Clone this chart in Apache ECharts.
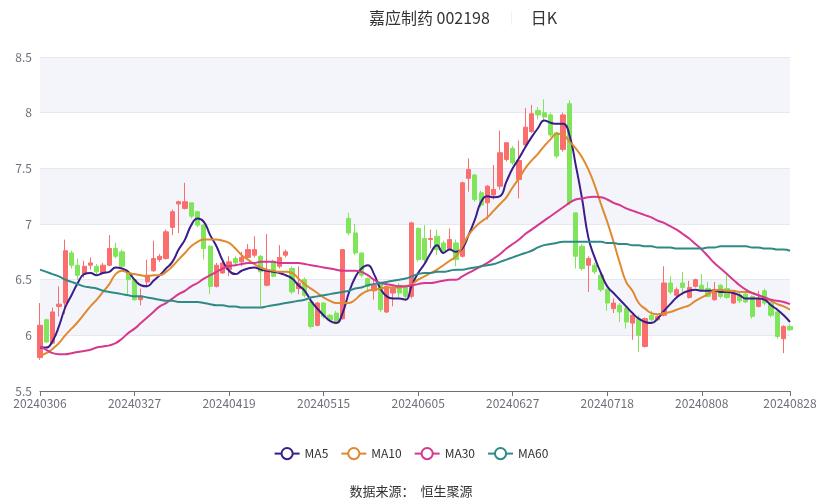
<!DOCTYPE html>
<html>
<head>
<meta charset="utf-8">
<script src="https://cdn.jsdelivr.net/npm/echarts@6/dist/echarts.min.js"></script>
<style>html,body{margin:0;padding:0;background:#fff}#c{width:822px;height:500px}</style>
</head>
<body>
<div id="c"></div>
<script>
const dates = ['20240306','20240307','20240308','20240311','20240312','20240313','20240314','20240315','20240318','20240319','20240320','20240321','20240322','20240325','20240326','20240327','20240328','20240329',
'20240401','20240402','20240403','20240408','20240409','20240410','20240411','20240412','20240415','20240416','20240417','20240418','20240419','20240422','20240423','20240424','20240425','20240426','20240429','20240430',
'20240506','20240507','20240508','20240509','20240510','20240513','20240514','20240515','20240516','20240517','20240520','20240521','20240522','20240523','20240524','20240527','20240528','20240529','20240530','20240531',
'20240603','20240604','20240605','20240606','20240607','20240611','20240612','20240613','20240614','20240617','20240618','20240619','20240620','20240621','20240624','20240625','20240626','20240627','20240628',
'20240701','20240702','20240703','20240704','20240705','20240708','20240709','20240710','20240711','20240712','20240715','20240716','20240717','20240718','20240719','20240722','20240723','20240724','20240725','20240726','20240729','20240730','20240731',
'20240801','20240802','20240805','20240806','20240807','20240808','20240809','20240812','20240813','20240814','20240815','20240816','20240819','20240820','20240821','20240822','20240823','20240826','20240827','20240828'];

const openP = [5.80,6.14,5.93,6.26,6.29,6.74,6.63,6.55,6.63,6.62,6.56,6.63,6.78,6.75,6.56,6.50,6.32,6.48,6.58,6.68,
6.69,6.97,7.18,7.14,7.19,7.11,6.99,6.80,6.44,6.56,6.59,6.69,6.66,6.70,6.72,6.71,6.45,6.66,6.62,6.72,
6.60,6.42,6.50,6.30,6.09,6.29,6.18,6.20,6.15,7.05,6.92,6.74,6.51,6.40,6.47,6.21,6.38,6.45,6.43,6.35,
6.96,6.87,6.86,6.89,6.83,6.78,6.83,6.71,7.41,7.44,7.28,7.19,7.26,7.34,7.58,7.68,7.40,7.71,7.83,8.02,
8.00,7.98,7.82,7.67,8.08,7.10,6.80,6.63,6.63,6.54,6.41,6.24,6.27,6.24,6.11,6.15,5.90,6.18,6.14,6.18,
6.47,6.36,6.47,6.34,6.44,6.45,6.42,6.32,6.45,6.42,6.29,6.36,6.37,6.35,6.26,6.40,6.29,6.21,5.97,6.08];
const closeP = [6.09,5.94,6.21,6.28,6.76,6.63,6.54,6.62,6.65,6.57,6.63,6.78,6.71,6.62,6.50,6.32,6.35,6.54,6.69,6.71,
6.93,7.11,7.20,7.20,7.07,6.99,6.78,6.44,6.63,6.65,6.66,6.65,6.70,6.77,6.77,6.57,6.59,6.53,6.70,6.75,
6.39,6.47,6.36,6.08,6.29,6.17,6.14,6.12,6.77,6.92,6.74,6.54,6.44,6.45,6.23,6.44,6.42,6.38,6.35,7.01,
6.68,6.68,6.87,6.77,6.75,6.86,6.68,7.37,7.49,7.22,7.17,7.34,7.31,7.64,7.73,7.55,7.57,7.87,7.99,7.98,
7.96,7.80,7.61,7.98,7.19,6.71,6.60,6.69,6.57,6.41,6.29,6.29,6.21,6.12,6.18,6.00,6.15,6.14,6.17,6.47,
6.39,6.41,6.43,6.43,6.50,6.41,6.35,6.41,6.35,6.34,6.38,6.31,6.30,6.17,6.33,6.29,6.18,5.99,6.08,6.05];
const lowP = [5.78,5.93,5.92,6.17,6.19,6.60,6.50,6.52,6.59,6.55,6.55,6.62,6.69,6.60,6.37,6.31,6.27,6.43,6.57,6.66,
6.68,6.90,6.92,7.13,7.05,6.97,6.68,6.37,6.43,6.55,6.53,6.63,6.62,6.69,6.70,6.26,6.44,6.52,6.60,6.70,
6.37,6.37,6.34,6.06,6.08,6.15,6.12,6.10,6.14,6.90,6.72,6.52,6.40,6.32,6.21,6.20,6.26,6.34,6.32,6.33,
6.66,6.66,6.78,6.72,6.73,6.77,6.62,6.70,7.29,7.20,7.15,7.04,7.22,7.31,7.56,7.53,7.23,7.69,7.82,7.94,
7.93,7.78,7.59,7.65,7.17,6.60,6.58,6.39,6.55,6.39,6.22,6.20,6.12,6.06,5.96,5.85,5.89,6.12,6.13,6.17,
6.37,6.34,6.36,6.33,6.43,6.40,6.34,6.31,6.33,6.33,6.28,6.29,6.29,6.15,6.25,6.27,6.16,5.97,5.84,6.04];
const highP = [6.29,6.15,6.25,6.44,6.86,6.76,6.69,6.67,6.70,6.64,6.65,6.90,6.83,6.77,6.59,6.50,6.42,6.68,6.85,6.73,
6.95,7.13,7.21,7.37,7.19,7.12,7.00,6.81,6.65,6.67,6.71,6.71,6.75,6.82,6.89,6.72,6.91,6.68,6.81,6.77,
6.62,6.62,6.52,6.35,6.30,6.30,6.19,6.22,6.77,7.10,7.00,6.74,6.52,6.50,6.48,6.45,6.44,6.47,6.45,7.02,
6.97,6.99,6.95,6.95,6.85,6.96,6.86,7.38,7.59,7.45,7.30,7.35,7.53,7.84,7.73,7.70,7.75,8.04,8.07,8.05,
8.12,8.00,7.83,8.00,8.11,7.10,6.82,6.71,6.65,6.56,6.42,6.33,6.29,6.26,6.19,6.18,6.16,6.22,6.18,6.62,
6.53,6.43,6.57,6.49,6.51,6.55,6.48,6.48,6.46,6.54,6.39,6.40,6.39,6.36,6.40,6.42,6.30,6.22,6.09,6.10];

const ma5 = [5.89,5.89,5.95,6.08,6.25,6.36,6.47,6.55,6.56,6.54,6.56,6.57,6.61,6.60,6.57,6.50,6.45,6.44,6.49,6.54,
6.60,6.66,6.77,6.86,6.99,7.05,7.02,6.90,6.80,6.67,6.58,6.55,6.58,6.60,6.61,6.59,6.58,6.57,6.56,6.54,
6.51,6.45,6.40,6.31,6.24,6.18,6.13,6.11,6.20,6.38,6.52,6.60,6.63,6.55,6.42,6.35,6.33,6.33,6.32,6.45,
6.56,6.64,6.74,6.81,6.74,6.77,6.75,6.78,6.90,7.04,7.20,7.25,7.24,7.25,7.38,7.50,7.59,7.69,7.78,7.86,
7.93,7.91,7.90,7.90,7.80,7.53,7.23,6.88,6.70,6.56,6.44,6.38,6.32,6.26,6.20,6.15,6.12,6.11,6.15,6.22,
6.28,6.34,6.38,6.40,6.41,6.40,6.40,6.40,6.39,6.39,6.38,6.36,6.33,6.33,6.33,6.32,6.27,6.23,6.18,6.12];
const ma10 = [5.82,5.84,5.88,5.93,6.00,6.06,6.12,6.19,6.26,6.32,6.39,6.46,6.55,6.58,6.56,6.55,6.54,6.53,6.54,6.54,
6.57,6.62,6.68,6.74,6.80,6.84,6.86,6.86,6.86,6.85,6.83,6.78,6.72,6.68,6.64,6.61,6.59,6.58,6.57,6.57,
6.56,6.51,6.46,6.42,6.38,6.34,6.31,6.29,6.29,6.29,6.32,6.37,6.40,6.41,6.42,6.43,6.43,6.43,6.44,6.46,
6.50,6.53,6.56,6.59,6.63,6.67,6.71,6.80,6.90,6.97,7.02,7.06,7.12,7.18,7.24,7.33,7.41,7.50,7.57,7.63,
7.70,7.76,7.81,7.80,7.74,7.68,7.60,7.49,7.35,7.18,7.02,6.84,6.65,6.48,6.40,6.29,6.24,6.20,6.19,6.20,
6.21,6.23,6.25,6.27,6.31,6.34,6.37,6.40,6.41,6.40,6.40,6.39,6.39,6.38,6.36,6.34,6.31,6.28,6.26,6.23];
const ma30 = [5.90,5.87,5.84,5.83,5.83,5.84,5.85,5.86,5.87,5.89,5.90,5.91,5.93,5.97,6.02,6.06,6.11,6.16,6.21,6.26,
6.29,6.33,6.37,6.40,6.44,6.47,6.51,6.54,6.57,6.60,6.62,6.63,6.64,6.65,6.65,6.66,6.66,6.66,6.65,6.65,
6.65,6.65,6.64,6.63,6.62,6.61,6.60,6.59,6.58,6.58,6.58,6.57,6.54,6.50,6.47,6.46,6.45,6.44,6.44,6.45,
6.46,6.47,6.47,6.48,6.49,6.50,6.50,6.53,6.56,6.59,6.62,6.65,6.69,6.73,6.78,6.82,6.86,6.91,6.95,6.99,
7.03,7.07,7.11,7.15,7.19,7.22,7.23,7.24,7.245,7.24,7.22,7.19,7.17,7.14,7.12,7.10,7.08,7.06,7.03,7.01,
6.98,6.95,6.91,6.87,6.82,6.77,6.71,6.65,6.60,6.55,6.50,6.45,6.41,6.38,6.36,6.34,6.32,6.31,6.30,6.28];
const ma60 = [6.59,6.57,6.55,6.53,6.50,6.48,6.46,6.44,6.43,6.42,6.40,6.39,6.38,6.37,6.36,6.35,6.35,6.34,6.33,6.32,
6.31,6.31,6.30,6.30,6.30,6.30,6.29,6.28,6.27,6.27,6.26,6.26,6.25,6.25,6.25,6.25,6.26,6.27,6.28,6.29,
6.30,6.31,6.32,6.34,6.35,6.36,6.37,6.38,6.39,6.40,6.42,6.43,6.45,6.46,6.47,6.48,6.49,6.50,6.51,6.53,
6.55,6.56,6.56,6.57,6.57,6.58,6.59,6.59,6.60,6.61,6.62,6.63,6.64,6.66,6.68,6.70,6.72,6.74,6.76,6.79,
6.81,6.82,6.83,6.84,6.84,6.84,6.84,6.84,6.84,6.84,6.83,6.83,6.82,6.82,6.81,6.81,6.80,6.80,6.79,6.79,
6.79,6.78,6.78,6.78,6.78,6.78,6.79,6.79,6.80,6.80,6.80,6.80,6.80,6.79,6.79,6.78,6.78,6.77,6.77,6.76];

const yTicks = {min: 5.5, max: 8.5, interval: 0.5};

const candles = dates.map((d, i) => [openP[i], closeP[i], lowP[i], highP[i]]);
const lastIdx = dates.length - 1;
const showIdx = (i) => i % 15 === 0 || i === lastIdx;

const chart = echarts.init(document.getElementById('c'), null, {renderer: 'canvas'});
const FONT = '"Noto Sans CJK SC", "Noto Sans", sans-serif';
const maStyle = (c) => ({
  type: 'line', smooth: true, showSymbol: false, symbol: 'emptyCircle', symbolSize: 8,
  lineStyle: {width: 2, color: c}, itemStyle: {color: c}, z: 3
});
chart.setOption({
  animation: false,
  textStyle: {fontFamily: FONT},
  title: [
    {
      text: '{t|嘉应制药 002198}{s|│}{t|日K}',
      left: 364, top: 5,
      textStyle: {
        fontWeight: 'normal',
        rich: {
          t: {fontSize: 16, color: '#333', fontWeight: 'normal', fontFamily: FONT},
          s: {fontSize: 14, color: '#e6e6e6', padding: [0, 12, 0, 15], fontFamily: FONT}
        }
      }
    },
    {
      text: '数据来源：  恒生聚源', left: 'center', top: 480,
      textStyle: {fontSize: 13, fontWeight: 'normal', color: '#333', fontFamily: FONT}
    }
  ],
  legend: {
    data: ['MA5', 'MA10', 'MA30', 'MA60'],
    left: 'center', top: 442, itemGap: 12, itemWidth: 25, itemHeight: 14,
    textStyle: {fontSize: 12, color: '#333', fontFamily: FONT}
  },
  grid: {left: 40, right: 32, top: 57, bottom: 109},
  xAxis: {
    type: 'category', data: dates, boundaryGap: false,
    axisLine: {lineStyle: {color: '#6e7079'}},
    axisTick: {interval: (i) => showIdx(i), lineStyle: {color: '#6e7079'}},
    axisLabel: {interval: (i) => showIdx(i), color: '#6e7079', fontSize: 12, margin: 6, fontFamily: FONT, showMaxLabel: true},
    splitLine: {show: false}
  },
  yAxis: {
    type: 'value', min: yTicks.min, max: yTicks.max, interval: yTicks.interval, scale: true,
    axisLine: {show: false}, axisTick: {show: false},
    axisLabel: {color: '#6e7079', fontSize: 12, margin: 8, fontFamily: FONT},
    splitLine: {show: true, lineStyle: {color: '#e6e8f0'}},
    splitArea: {show: true, areaStyle: {color: ['#ffffff', '#f4f5fa']}}
  },
  series: [
    {
      type: 'candlestick', name: '日K', data: candles, barWidth: '75%',
      itemStyle: {color: '#fa6e6e', color0: '#80e55a', borderColor: '#fa6e6e', borderColor0: '#80e55a', borderWidth: 1},
      z: 2
    },
    Object.assign({name: 'MA5', data: ma5}, maStyle('#3a1d8a')),
    Object.assign({name: 'MA10', data: ma10}, maStyle('#e0892e')),
    Object.assign({name: 'MA30', data: ma30}, maStyle('#d6378f')),
    Object.assign({name: 'MA60', data: ma60}, maStyle('#2f8a86'))
  ]
});
</script>
</body>
</html>
